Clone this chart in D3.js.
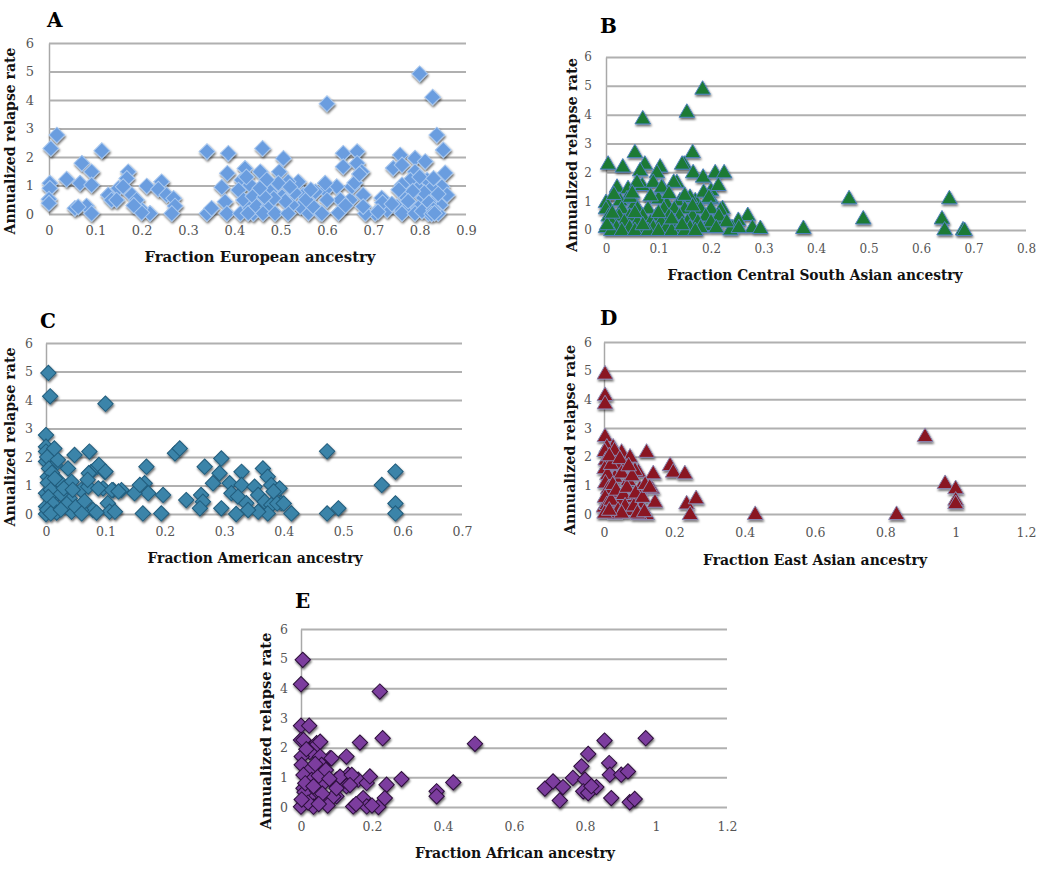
<!DOCTYPE html>
<html><head><meta charset="utf-8">
<script src="https://cdn.jsdelivr.net/npm/d3@7"></script>
<style>
body{margin:0;background:#fff;}
svg{display:block;}
</style></head>
<body>
<svg id="chart" width="1050" height="872"></svg>
<script>
// ---------- DATA ----------
const yTicks = [0,1,2,3,4,5,6];
const xTicksA = [0,0.1,0.2,0.3,0.4,0.5,0.6,0.7,0.8,0.9];
const xTicksB = [0,0.1,0.2,0.3,0.4,0.5,0.6,0.7,0.8];
const xTicksC = [0,0.1,0.2,0.3,0.4,0.5,0.6,0.7];
const xTicksD = [0,0.2,0.4,0.6,0.8,1,1.2];
const xTicksE = [0,0.2,0.4,0.6,0.8,1,1.2];

const titlesX = ["Fraction European ancestry","Fraction Central South Asian ancestry","Fraction American ancestry","Fraction East Asian ancestry","Fraction African ancestry"];
const titlesY = ["Annualized relapse rate","Annualized relapse rate","Anualized relapse rate","Annualized relapse rate","Annualized relapse rate"];
const letters = ["A","B","C","D","E"];

// Panel A: [fraction European, annualized relapse rate]
const dataA = [
[0.017,2.77],[0.004,2.3],[0.114,2.22],[0.071,1.78],[0.092,1.48],[0.171,1.48],[0.168,1.25],[0.038,1.22],[0.002,1.08],[0.002,0.9],
[0.067,1.08],[0.092,1.02],[0.15,0.9],[0.128,0.67],[0.135,0.49],[0.146,0.49],[0.16,0.96],[0.179,0.67],[0.211,0.98],[0.243,1.13],
[0.236,0.87],[0.254,0.67],[0.269,0.55],[0.272,0.28],[0.265,0.02],[0.218,0.02],[0.197,0.2],[0.189,0.49],[0,0.52],[0,0.38],
[0.056,0.2],[0.081,0.28],[0.092,0.02],[0.341,0.02],[0.351,0.2],[0.341,2.19],[0.387,2.13],[0.373,0.94],[0.385,1.43],[0.38,0.43],
[0.384,0.02],[0.413,0.02],[0.416,1.19],[0.423,1.6],[0.434,1.02],[0.409,0.84],[0.42,0.49],[0.434,0.2],[0.441,0.02],[0.063,0.25],
[0.2,0.05],[0.183,0.3],[0.426,1.3],[0.43,0.03],[0.44,0.62],[0.448,0.27],
[0.461,2.3],[0.506,1.95],[0.456,1.48],[0.497,1.48],[0.635,2.13],[0.665,2.19],[0.635,1.66],[0.665,1.78],[0.675,1.48],[0.678,0.67],
[0.758,2.07],[0.79,1.96],[0.812,1.84],[0.743,1.61],[0.762,1.72],[0.837,2.77],[0.851,2.25],[0.855,1.44],[0.79,1.48],[0.78,1.19],
[0.816,1.19],[0.848,0.96],[0.859,0.67],[0.762,1.02],[0.797,0.91],[0.826,0.91],[0.769,0.61],[0.808,0.56],[0.834,0.49],[0.751,0.26],
[0.776,0.26],[0.797,0.21],[0.823,0.26],[0.845,0.32],[0.762,0.02],[0.79,0.02],[0.819,0.02],[0.84,0.02],[0.718,0.56],[0.73,0.14],
[0.704,0.02],[0.683,0.02],[0.678,0.26],[0.65,0.49],[0.654,0.96],[0.621,0.96],[0.629,0.49],[0.596,0.84],[0.6,0.49],[0.625,0.04],
[0.585,0.04],[0.56,0.04],[0.575,0.78],[0.538,1.13],[0.549,0.67],[0.542,0.26],[0.516,1.13],[0.524,0.32],[0.503,0.61],[0.495,1.08],
[0.477,0.78],[0.473,0.26],[0.462,0.02],[0.488,0.02],[0.516,0.02],[0.57,0.26],[0.589,0.02],[0.596,1.08],[0.6,3.87],[0.8,4.92],
[0.828,4.1],[0.8,1.3],[0.83,1.25],[0.81,0.75],[0.785,0.8],[0.84,0.7],[0.82,0.4],[0.805,0.1],[0.83,0.15],[0.775,0.45],
[0.755,0.85],[0.72,0.4],[0.71,0.08],[0.74,0.35],[0.66,1.1],[0.67,1.4],[0.64,0.3],[0.53,0.75],[0.51,0.45],[0.485,0.55],
[0.555,0.5],[0.565,0.85],[0.52,0.95],[0.47,1.2],[0.465,0.6],[0.455,0.9],[0.826,0.0],[0.832,0.03]
];

// Panel B: [fraction Central South Asian, annualized relapse rate]
const dataB = [
[0.184,4.9],[0.154,4.1],[0.07,3.87],[0.055,2.7],[0.165,2.7],[0.004,2.3],[0.032,2.2],[0.074,2.3],[0.103,2.2],[0.149,2.3],
[0.166,2.0],[0.185,1.85],[0.208,2.0],[0.225,2.0],[0.135,1.66],[0.021,1.5],[0.042,1.45],[0.069,1.56],[0.109,1.45],[0.2,1.38],
[0.214,1.56],[0,0.97],[0.04,1.1],[0.055,0.93],[0.1,1.1],[0.17,1.03],[0.2,1.1],[0.222,0.76],[0.27,0.52],[0.252,0.35],
[0.24,0.1],[0.279,0.1],[0.294,0.07],[0.376,0.07],[0.463,1.1],[0.654,1.1],[0.49,0.4],[0.64,0.4],[0.645,0.02],[0.68,0.02],
[0.683,0.0],[0.065,2.07],[0.097,2.0],[0.145,2.3],[0.186,1.33],[0.196,1.15],[0.129,1.67],[0.059,1.67],[0.09,1.67],[0.106,1.5],
[0.027,1.03],[0.046,1.15],[0.116,0.92],[0.141,1.03],[0.16,1.15],[0.218,0.7],[0.211,0.35],[0.192,0.17],[0.237,0.02],[0.253,0.1],
[0.015,1.25],[0.05,1.3],[0.085,1.2],[0.12,1.28],[0.15,1.22],
[0,0.75],[0.03,0.75],[0.06,0.75],[0.08,0.75],[0.11,0.75],[0.13,0.75],[0.15,0.75],[0.18,0.75],[0.2,0.75],
[0.005,0.5],[0.025,0.5],[0.045,0.5],[0.07,0.5],[0.095,0.5],[0.12,0.5],[0.14,0.5],[0.165,0.5],[0.19,0.5],[0.215,0.5],
[0.01,0.3],[0.035,0.3],[0.06,0.3],[0.085,0.3],[0.105,0.3],[0.13,0.3],[0.155,0.3],[0.175,0.3],[0.2,0.3],[0.23,0.3],
[0,0.1],[0.02,0.1],[0.045,0.1],[0.07,0.1],[0.09,0.1],[0.115,0.1],[0.14,0.1],[0.16,0.1],[0.18,0.1],[0.21,0.1],
[0.01,0],[0.03,0],[0.055,0],[0.08,0],[0.1,0],[0.125,0],[0.15,0],[0.17,0],
[0.002,0.2],[0.012,0.6],[0.1,0.62],[0.165,0.85],[0.125,0.4],[0.055,0.62],[0.07,0.2],[0.145,0.2]
];

// Panel C: [fraction American, annualized relapse rate]
const dataC = [
[0.004,4.95],[0.007,4.13],[0.1,3.87],[0,2.77],[0,2.36],[0,2.19],[0.048,2.07],[0.073,2.19],[0,1.84],[0.015,1.72],
[0.037,1.6],[0.076,1.48],[0.087,1.66],[0.099,1.48],[0.169,1.66],[0.217,2.13],[0.225,2.3],[0.295,1.95],[0.267,1.66],[0.292,1.43],
[0.329,1.48],[0.365,1.6],[0.373,1.31],[0.281,1.08],[0.309,1.08],[0.329,1.02],[0.351,0.96],[0.379,1.02],[0.393,0.9],[0.312,0.73],
[0.323,0.61],[0.337,0.38],[0.357,0.67],[0.368,0.43],[0.379,0.32],[0.396,0.38],[0.413,0.02],[0.373,0.02],[0.357,0.08],[0.34,0.14],
[0.32,0],[0.295,0.2],[0.261,0.67],[0.264,0.43],[0.259,0.2],[0.236,0.49],[0.197,0.67],[0.194,0.02],[0.163,0.02],[0.166,1.08],
[0.172,0.73],[0.149,0.73],[0.127,0.84],[0.113,0.84],[0.096,0.9],[0.059,0.84],[0.04,0.55],[0.104,0.38],[0.107,0.08],[0.116,0.08],
[0.079,0.14],[0.059,0.14],[0.043,0.08],[0.029,0.26],[0.012,0.96],[0.003,1.31],[0.02,1.19],[0.043,1.13],[0.009,0.49],[0,0.73],
[0,0.26],[0,0],[0.071,0.96],[0.088,0.9],[0.158,1.02],[0.473,2.2],[0.473,0.02],[0.492,0.2],[0.565,1.02],[0.588,1.49],
[0.588,0.37],[0.588,0.02],[0.111,0.84],[0.122,0.79],[0.072,1.43],[0.089,1.72],[0.1,1.49],[0.383,0.79],[0.389,0.37],[0.4,0.37],
[0.002,2.0],[0.005,1.6],[0.01,1.45],[0.003,1.1],[0.008,0.85],[0.004,0.6],[0.012,0.35],[0.002,0.15],[0.018,0.05],[0.025,0.7],
[0.02,1.9],[0.03,0.9],[0.015,1.25],[0.035,0.35],[0.008,0.02],[0.05,0.25],[0.065,0.45],[0.085,0.05],[0.06,0.02],[0.025,0.15],
[0.045,0.85],[0.07,1.2],[0.014,2.3]
];

// Panel D: [fraction East Asian, annualized relapse rate]
const dataD = [
[0.003,4.9],[0.003,4.15],[0.003,3.86],[0.003,2.72],[0.121,2.17],[0.05,2.17],[0.074,2.0],[0.026,2.35],[0.188,1.71],[0.197,1.48],
[0.23,1.42],[0.14,1.42],[0.098,1.48],[0.06,1.71],[0.136,0.9],[0.145,0.43],[0.235,0.37],[0.262,0.55],[0.245,0],[0.43,0],
[0.121,0],[0.102,0.9],[0.069,1.19],[0.031,1.3],[0.083,0.6],[0.107,0.26],[0.045,0.43],[0.017,0.78],[0,0.26],[0.074,0.14],
[0.031,0.02],[0.1,0],[0.008,2.35],[0.03,2.24],[0.036,1.72],[0.088,1.54],[0.913,2.72],[0.97,1.08],[1.0,0.9],[1.0,0.5],
[1.0,0.38],[0.832,0],[0.002,2.2],[0.005,1.9],[0.002,1.6],[0.01,1.4],[0.004,1.1],[0.012,0.9],[0.003,0.6],[0.008,0.35],
[0.002,0.05],[0.02,1.75],[0.025,1.05],[0.02,0.5],[0.035,0.85],[0.04,0.15],[0.05,1.45],[0.055,0.7],[0.06,0.3],[0.065,0.95],
[0.08,1.35],[0.085,0.3],[0.09,0.75],[0.095,0.05],[0.015,2.05],[0.045,1.95],[0.07,1.7],[0.11,0.6],[0.115,0.1],[0.05,0.05],
[0.015,0.15],[0.117,1.05],[0.13,0.95]
];

// Panel E: [fraction African, annualized relapse rate]
const dataE = [
[0.005,4.96],[0,4.14],[0.222,3.89],[0,2.74],[0.023,2.74],[0,2.26],[0.03,1.93],[0.044,2.15],[0.166,2.17],[0.23,2.32],
[0.49,2.13],[0.128,1.7],[0.082,1.65],[0.133,1.09],[0.128,0.7],[0.1,0.92],[0.1,0.36],[0.161,0.92],[0.185,0.81],[0.194,1.03],
[0.147,0.02],[0.175,0.3],[0.185,0.02],[0.218,0],[0.241,0.75],[0.236,0.3],[0.283,0.94],[0.382,0.53],[0.382,0.36],[0.429,0.83],
[0.687,0.62],[0.71,0.86],[0.729,0.22],[0.738,0.67],[0.766,0.98],[0.79,1.37],[0.809,1.79],[0.8,0.92],[0.795,0.53],[0.809,0.47],
[0.832,0.67],[0.818,0.7],[0.855,2.24],[0.868,1.48],[0.87,1.09],[0.874,0.3],[0.902,1.09],[0.921,1.2],[0.926,0.16],[0.94,0.27],
[0.971,2.32],[0.007,2.26],[0.039,2.03],[0.054,2.2],[0.025,1.85],[0.002,1.7],[0.054,1.7],[0.058,1.42],[0.002,1.42],[0.025,1.25],
[0.007,1.08],[0.03,0.91],[0.063,0.8],[0.007,0.63],[0.025,0.35],[0.063,0.24],[0.035,0.01],[0,0.01],[0.091,0.35],[0.1,0.63],
[0.11,1.02],[0.086,1.64],[0.143,1.08],[0.138,0.74],[0.01,0.5],[0.045,0.55],[0.02,0.15],[0.05,1.05],[0.07,1.25],[0.015,1.95],
[0.075,0.05],[0.04,1.45],[0.06,0.45],[0.012,0.8],[0.08,0.95],[0.035,0.7],[0.002,0.25],[0.05,0.1],[0.155,0.1],[0.2,0.05]
];

const datasets = [dataA, dataB, dataC, dataD, dataE];
const xTickSets = [xTicksA, xTicksB, xTicksC, xTicksD, xTicksE];
const xMaxes = [0.9, 0.8, 0.7, 1.2, 1.2];

// ---------- LAYOUT / STYLE ----------
const layout = [
  {x0:49, x1:466, yT:43, yB:214, ypad:15, xlab:16, tx:260, ty:257, tl:231, yx:10, yc:141, yl:187, lx:47, ly:27, fs:13,
   shape:"diamond", size:125, fill:"#6a9ddf", stroke:"#a9c8ef"},
  {x0:606, x1:1026, yT:57, yB:230, ypad:14, xlab:19, tx:815, ty:275, tl:295, yx:572, yc:155, yl:194, lx:600, ly:33, fs:12,
   shape:"triangle", size:105, fill:"#1c7a36", stroke:"#4f81bd"},
  {x0:46, x1:462, yT:343, yB:514, ypad:13, xlab:18, tx:255, ty:558, tl:215, yx:10, yc:437, yl:179, lx:40, ly:328, fs:12.5,
   shape:"diamond", size:118, fill:"#3b84a9", stroke:"#215c7c"},
  {x0:604, x1:1026, yT:342, yB:514, ypad:12, xlab:19, tx:815, ty:560, tl:224, yx:570, yc:440, yl:190, lx:600, ly:325, fs:12.5,
   shape:"triangle", size:108, fill:"#8a1621", stroke:"#8a86b0"},
  {x0:301, x1:727, yT:629, yB:807, ypad:13, xlab:20, tx:515, ty:853, tl:200, yx:266, yc:731, yl:197, lx:295, ly:608, fs:12.5,
   shape:"diamond", size:118, fill:"#7b3e9e", stroke:"#2c0f3a"}
];

const svg = d3.select("#chart");
const defs = svg.append("defs");
const f = defs.append("filter").attr("id","shadow").attr("x","-20%").attr("y","-20%").attr("width","140%").attr("height","140%");
f.append("feDropShadow").attr("dx",0.8).attr("dy",1.8).attr("stdDeviation",1.2).attr("flood-color","#000").attr("flood-opacity",0.6);

const serif = "'DejaVu Serif', 'Liberation Serif', serif";

layout.forEach((L, i) => {
  const x = d3.scaleLinear().domain([0, xMaxes[i]]).range([L.x0, L.x1]);
  const y = d3.scaleLinear().domain([0, 6]).range([L.yB, L.yT]);
  const g = svg.append("g");

  // y axis with gridlines
  const ya = g.append("g").attr("transform", `translate(${L.x0},0)`)
    .call(d3.axisLeft(y).tickValues(yTicks).tickSize(-(L.x1 - L.x0)).tickSizeOuter(0).tickPadding(L.ypad).tickFormat(d3.format("d")));
  ya.select(".domain").attr("stroke", "#a8a8a8").attr("stroke-width", 1.5);
  ya.selectAll(".tick line").attr("stroke", "#b0b0b0").attr("stroke-width", 2);
  ya.selectAll(".tick text").attr("fill", "#555").style("font-family", serif).style("font-size", L.fs + "px");

  // x axis labels
  const xa = g.append("g").attr("transform", `translate(0,${L.yB})`)
    .call(d3.axisBottom(x).tickValues(xTickSets[i]).tickSize(0).tickFormat(d => String(+d.toFixed(1))));
  xa.select(".domain").remove();
  xa.selectAll(".tick text").attr("y", L.xlab).attr("dy", "0.35em")
    .attr("fill", "#555").style("font-family", serif).style("font-size", L.fs + "px");

  // markers
  const sym = L.shape === "diamond"
    ? d3.symbol().type(d3.symbolSquare).size(L.size)
    : d3.symbol().type(d3.symbolTriangle).size(L.size);
  const mg = g.append("g").attr("filter", "url(#shadow)");
  mg.selectAll("path").data(datasets[i]).join("path")
    .attr("d", sym)
    .attr("transform", d => `translate(${x(d[0])},${y(d[1])})` + (L.shape === "diamond" ? " rotate(45)" : " translate(0,1)"))
    .attr("fill", L.fill).attr("stroke", L.stroke).attr("stroke-width", 1);

  // axis titles
  g.append("text").attr("x", L.tx).attr("y", L.ty).attr("dy", "0.35em").attr("text-anchor", "middle")
    .attr("textLength", L.tl).attr("lengthAdjust", "spacingAndGlyphs")
    .style("font-family", serif).style("font-weight", "bold").style("font-size", "15.5px").attr("fill", "#111")
    .text(titlesX[i]);
  g.append("text").attr("transform", `translate(${L.yx},${L.yc}) rotate(-90)`).attr("dy", "0.35em").attr("text-anchor", "middle")
    .attr("textLength", L.yl).attr("lengthAdjust", "spacingAndGlyphs")
    .style("font-family", serif).style("font-weight", "bold").style("font-size", "15.5px").attr("fill", "#111")
    .text(titlesY[i]);
  g.append("text").attr("x", L.lx).attr("y", L.ly)
    .style("font-family", serif).style("font-weight", "bold").style("font-size", "20px").attr("fill", "#000")
    .text(letters[i]);
});
</script>
</body></html>
